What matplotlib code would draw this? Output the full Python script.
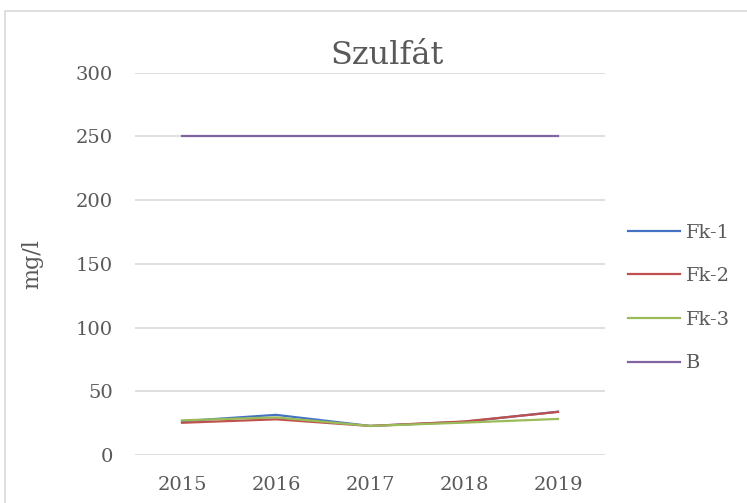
import matplotlib.pyplot as plt
from matplotlib.patches import Rectangle

years = ['2015', '2016', '2017', '2018', '2019']
fk1 = [26.5, 31.5, 22.8, 26.0, 34.0]
fk2 = [25.3, 28.0, 22.8, 26.3, 33.8]
fk3 = [27.2, 29.5, 22.8, 25.4, 28.3]
b = [250, 250, 250, 250, 250]
yticks = [0, 50, 100, 150, 200, 250, 300]

plt.rcParams['font.family'] = ['DejaVu Serif']
txt = '#595959'

fig = plt.figure(figsize=(7.47, 5.03), dpi=100)
# chart area border
fig.patches.append(Rectangle((5 / 747, -0.1), 1.2, 1.1 - 11 / 503,
                             transform=fig.transFigure, fill=False,
                             edgecolor='#D9D9D9', linewidth=1.2))

ax = fig.add_axes([135 / 747, 1 - 455 / 503, 470 / 747, (455 - 72.7) / 503])
x = range(len(years))
ax.plot(x, fk1, color='#4472C4', lw=1.6, label='Fk-1')
ax.plot(x, fk2, color='#C0504D', lw=1.6, label='Fk-2')
ax.plot(x, fk3, color='#9BBB59', lw=1.6, label='Fk-3')
ax.plot(x, b, color='#8064A2', lw=1.6, label='B')

ax.set_xlim(-0.5, len(years) - 0.5)
ax.set_ylim(0, 300)
ax.set_yticks(yticks)
ax.set_xticks(list(x))
ax.set_xticklabels(years)
ax.grid(axis='y', color='#D9D9D9', lw=1.2)
ax.set_axisbelow(True)
for s in ax.spines.values():
    s.set_visible(False)
ax.tick_params(length=0, labelsize=14, colors=txt)
ax.tick_params(axis='y', pad=16)
ax.tick_params(axis='x', pad=15)
ax.set_ylabel('mg/l', fontsize=16, color=txt)
ax.yaxis.set_label_coords(-0.195, 0.5)

fig.text(387 / 747, 1 - 55 / 503, 'Szulfát', fontsize=23, color=txt,
         ha='center', va='center')

leg = fig.legend(loc='center left', bbox_to_anchor=(610 / 747, 1 - 298 / 503),
                 frameon=False, fontsize=14, handlelength=2.7,
                 handletextpad=0.3, labelspacing=1.32)
for t in leg.get_texts():
    t.set_color(txt)

fig.savefig('out.png', dpi=100)
